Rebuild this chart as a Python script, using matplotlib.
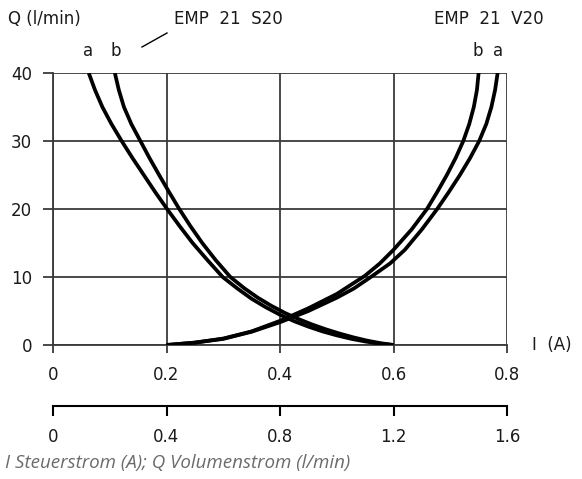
import matplotlib
matplotlib.use("Agg")
import matplotlib.pyplot as plt

# EMP 21 S20 (falling curves), current I in A and flow Q in l/min
s20_a_i = [0.063, 0.074, 0.087, 0.103, 0.121, 0.140, 0.160, 0.180, 0.201, 0.223, 0.246, 0.272,
           0.299, 0.325, 0.350, 0.375, 0.400, 0.425, 0.450, 0.475, 0.500, 0.525, 0.550, 0.575, 0.600]
s20_a_q = [40, 37.5, 35, 32.5, 30, 27.5, 25, 22.5, 20, 17.5, 15, 12.5,
           10, 8.3, 6.8, 5.55, 4.45, 3.5, 2.7, 2.0, 1.42, 0.92, 0.52, 0.2, 0]
s20_b_i = [0.109, 0.116, 0.125, 0.138, 0.154, 0.170, 0.187, 0.2045, 0.2225, 0.242, 0.263, 0.2865,
           0.3125, 0.337, 0.361, 0.385, 0.409, 0.433, 0.457, 0.481, 0.505, 0.529, 0.553, 0.577, 0.600]
s20_b_q = [40, 37.5, 35, 32.5, 30, 27.5, 25, 22.5, 20, 17.5, 15, 12.5,
           10, 8.35, 6.95, 5.75, 4.7, 3.8, 3.0, 2.3, 1.68, 1.13, 0.65, 0.27, 0]

# EMP 21 V20 (rising curves)
v20_a_i = [0.20, 0.25, 0.30, 0.35, 0.40, 0.45, 0.50, 0.53, 0.56, 0.594, 0.62, 0.65, 0.677,
           0.6975, 0.717, 0.735, 0.751, 0.7635, 0.7725, 0.779, 0.7835]
v20_a_q = [0, 0.35, 0.9, 1.95, 3.35, 5.0, 6.95, 8.3, 10.0, 12.0, 14.0, 17.0, 20,
           22.5, 25, 27.5, 30, 32.5, 35, 37.5, 40]
v20_b_i = [0.20, 0.25, 0.30, 0.35, 0.40, 0.45, 0.50, 0.55, 0.576, 0.60, 0.632, 0.659,
           0.677, 0.694, 0.7095, 0.723, 0.7335, 0.7415, 0.747, 0.750]
v20_b_q = [0, 0.35, 0.95, 2.0, 3.55, 5.4, 7.5, 10.2, 12.0, 14.0, 17.0, 20,
           22.5, 25, 27.5, 30, 32.5, 35, 37.5, 40]

x_ticks = [0, 0.2, 0.4, 0.6, 0.8]
x_ticklabels = ["0", "0.2", "0.4", "0.6", "0.8"]
x2_ticks = [0, 0.4, 0.8, 1.2, 1.6]
x2_ticklabels = ["0", "0.4", "0.8", "1.2", "1.6"]
y_ticks = [0, 10, 20, 30, 40]

plt.rcParams["font.family"] = ["DejaVu Sans"]
plt.rcParams["font.size"] = 12
plt.rcParams["text.color"] = "#1a1a1a"
plt.rcParams["xtick.labelcolor"] = "#1a1a1a"
plt.rcParams["ytick.labelcolor"] = "#1a1a1a"

W, H = 582, 479
fig = plt.figure(figsize=(W / 100, H / 100), dpi=100)

def fx(px):
    return px / W

def fy(py):
    return 1 - py / H

ax = fig.add_axes([fx(53), fy(345), (507 - 53) / W, (345 - 73) / H])
ax.set_xlim(0, 0.8)
ax.set_ylim(0, 40)

grid_col = "#3a3a3a"
curve_kw = dict(color="black", lw=2.7, solid_capstyle="butt", solid_joinstyle="round", zorder=3)
ax.plot(s20_a_i, s20_a_q, **curve_kw)
ax.plot(s20_b_i, s20_b_q, **curve_kw)
ax.plot(v20_a_i, v20_a_q, **curve_kw)
ax.plot(v20_b_i, v20_b_q, **curve_kw)

for s in ["top", "right"]:
    ax.spines[s].set_visible(False)
for s in ["left", "bottom"]:
    ax.spines[s].set_color(grid_col)
    ax.spines[s].set_linewidth(1.3)
ax.set_xticks(x_ticks)
ax.set_xticklabels(x_ticklabels)
ax.set_yticks(y_ticks)
ax.grid(True, color=grid_col, lw=1.3, zorder=1)
ax.tick_params(axis="x", direction="out", length=6, width=1.3, color=grid_col, pad=9)
ax.tick_params(axis="y", direction="out", length=7, width=1.3, color=grid_col, pad=8)
ax.set_axisbelow(True)

# second current scale
ax2 = fig.add_axes([fx(53), fy(406), (507 - 53) / W, 0.0001])
ax2.set_xlim(0, 1.6)
ax2.set_xticks(x2_ticks)
ax2.set_xticklabels(x2_ticklabels)
ax2.set_yticks([])
ax2.patch.set_visible(False)
for s in ["top", "right", "left"]:
    ax2.spines[s].set_visible(False)
ax2.spines["bottom"].set_linewidth(1.5)
ax2.tick_params(axis="x", direction="out", length=7, width=1.5, pad=9)

# annotations
fig.text(fx(8), fy(19), "Q (l/min)", va="center", ha="left")
fig.text(fx(174), fy(19), "EMP  21  S20", va="center", ha="left")
fig.text(fx(434), fy(19), "EMP  21  V20", va="center", ha="left")
fig.text(fx(532), fy(345), "I  (A)", va="center", ha="left")
for lbl, px in [("a", 88), ("b", 116), ("b", 478), ("a", 498)]:
    fig.text(fx(px), fy(51), lbl, va="center", ha="center")
fig.add_artist(plt.Line2D([fx(142), fx(167)], [fy(47), fy(33)], color="black", lw=1.0))

fig.text(fx(5), fy(463), "I Steuerstrom (A); Q Volumenstrom (l/min)", va="center", ha="left",
         family=["Open Sans", "DejaVu Sans"], style="italic", color="#6b6b6b", fontsize=13.5)

fig.savefig("out.png", dpi=100)
